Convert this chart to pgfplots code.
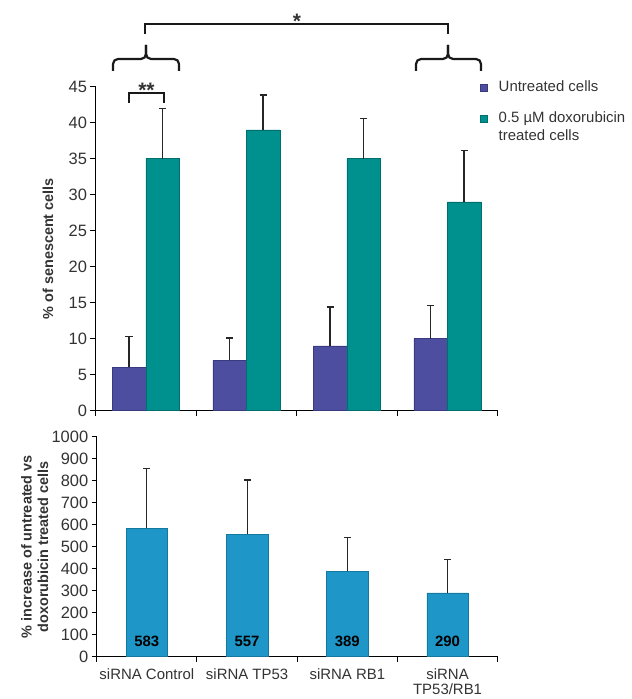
\documentclass[border=0pt]{standalone}
\usepackage{pgfplots}
\pgfplotsset{compat=1.18}
\usepackage{fontspec}
\setmainfont{Liberation Sans}
\definecolor{untr}{HTML}{4E4EA0}
\definecolor{untrD}{HTML}{3A3A80}
\definecolor{treat}{HTML}{00908E}
\definecolor{treatD}{HTML}{006E6C}
\definecolor{incr}{HTML}{1E96C8}
\definecolor{incrD}{HTML}{17789F}
\definecolor{txt}{HTML}{333333}
\pgfplotsset{
 myaxis/.style={
  scale only axis,
  axis x line=bottom, axis y line=left,
  axis line style={-, line width=1.1bp, black},
  tick align=outside,
  xmin=-0.5, xmax=3.5,
  xtick={-0.5,0.5,1.5,2.5,3.5},
  xticklabels={,,,,},
  major tick length=5bp,
  tick style={line width=1bp, black},
  ticklabel style={font=\fontsize{16.5}{18}\selectfont, text=txt},
  /pgf/number format/assume math mode=true,
  /pgf/number format/set thousands separator={},
  clip=false,
  every axis y label/.style={rotate=90, anchor=center,
     font=\bfseries\fontsize{14.5}{16.6}\selectfont, text=txt, align=center},
  error bars/error mark=-,
  error bars/error bar style={line width=1.1bp, black!85},
  error bars/error mark options={rotate=90, mark size=3.5bp, line width=1.1bp, black!85},
 }
}
\begin{document}
\begin{tikzpicture}[x=1bp,y=1bp]
\useasboundingbox (0bp,0bp) rectangle (632bp,699bp);
% ---------- top panel ----------
\begin{axis}[myaxis,
  at={(95.5bp,288.3bp)}, anchor=south west,
  width=402bp, height=324bp,
  ymin=0, ymax=45, ytick={0,5,...,45},
  ybar=0pt, bar width=33.5bp,
  ylabel={\% of senescent cells},
  every axis y label/.append style={at={(axis description cs:-0.1182,0.5)}},
  legend style={draw=none, fill=none, at={(0.9565,1.024)}, anchor=north west,
     font=\fontsize{15}{18}\selectfont, text=txt, row sep=13bp, inner sep=0pt,
     cells={anchor=base west}, nodes={inner sep=2bp}},
  legend image code/.code={\fill[#1] (0bp,1bp) rectangle (6.5bp,7.5bp); \path (16bp,4bp);},
  error bars/y dir=plus, error bars/y explicit,
]
\addplot[fill=untr, draw=untrD, line width=0.5bp] coordinates {
 (0,6) +- (0,4.3)
 (1,7) +- (0,3.1)
 (2,9) +- (0,5.4)
 (3,10) +- (0,4.6)
};
\addlegendentry{Untreated cells}
\addplot[fill=treat, draw=treatD, line width=0.5bp] coordinates {
 (0,35) +- (0,7.0)
 (1,39) +- (0,4.85)
 (2,35) +- (0,5.6)
 (3,29) +- (0,7.1)
};
\addlegendentry{\begin{tabular}[t]{@{}l@{}}0.5 µM doxorubicin\\treated cells\end{tabular}}
\end{axis}
% ---------- bottom panel ----------
\begin{axis}[myaxis,
  at={(96.7bp,42.3bp)}, anchor=south west,
  width=401bp, height=220bp,
  ymin=0, ymax=1000, ytick={0,100,...,1000},
  extra x ticks={0,1,2,3},
  extra x tick labels={siRNA Control, siRNA TP53, siRNA RB1, {siRNA\\TP53/RB1}},
  extra x tick style={major tick length=0pt, xticklabel style={align=center, yshift=-8bp, font=\fontsize{15}{16}\selectfont}},
  ylabel={\% increase of untreated vs\\doxorubicin treated cells},
  every axis y label/.append style={at={(axis description cs:-0.1546,0.5)}},
]
\addplot[ybar, bar width=41.5bp, fill=incr, draw=incrD, line width=0.5bp,
  error bars/.cd, y dir=plus, y explicit] coordinates {
 (0,583) +- (0,273)
 (1,557) +- (0,246)
 (2,389) +- (0,152)
 (3,290) +- (0,153)
};
\addplot[draw=none, mark=none, nodes near coords, point meta=explicit symbolic,
  every node near coord/.append style={anchor=center, font=\bfseries\fontsize{15}{17}\selectfont, text=black}]
  coordinates {(0,68)[583] (1,68)[557] (2,68)[389] (3,68)[290]};
\end{axis}
% ---------- significance annotations ----------
\begin{scope}[line width=2.2bp, black!90]
\draw (145bp,665bp) -- (145bp,675bp) -- (448bp,675bp) -- (448bp,665bp);
\draw[rounded corners=5bp] (113bp,628bp) |- (146bp,640bp) -- (146bp,654bp);
\draw[rounded corners=5bp] (179bp,628bp) |- (146bp,640bp) -- (146bp,654bp);
\draw[rounded corners=5bp] (416bp,628bp) |- (448bp,640bp) -- (448bp,654bp);
\draw[rounded corners=5bp] (481bp,628bp) |- (448bp,640bp) -- (448bp,654bp);
\draw (129bp,596bp) -- (129bp,606bp) -- (164bp,606bp) -- (164bp,596bp);
\end{scope}
\node[font=\bfseries\fontsize{21}{21}\selectfont, text=txt] at (297bp,678bp) {*};
\node[font=\bfseries\fontsize{21}{21}\selectfont, text=txt] at (146.5bp,609bp) {**};
\end{tikzpicture}
\end{document}
